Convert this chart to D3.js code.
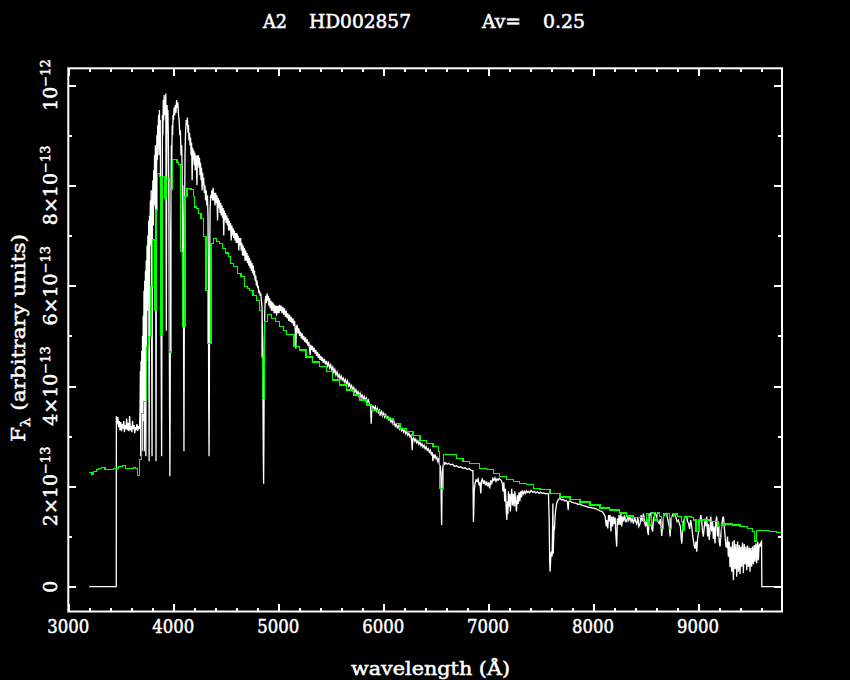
<!DOCTYPE html>
<html><head><meta charset="utf-8">
<script src="https://cdn.jsdelivr.net/npm/d3@7"></script>
<style>
html,body{margin:0;padding:0;background:#000;}
svg{display:block;background:#000;}
text{fill:#fff;font-family:"DejaVu Serif",serif;stroke:#fff;stroke-width:0.5px;}
</style></head><body>
<svg id="chart" width="850" height="680"></svg>
<script>
// ---------------- data ----------------
const titleParts = ["A2", "HD002857", "Av=", "0.25"];
const xTitle = "wavelength (Å)";
const yTitleMain = "F", yTitleSub = "λ", yTitleRest = " (arbitrary units)";
const xMajorTicks = [3000, 4000, 5000, 6000, 7000, 8000, 9000];
const xTickLabels = ["3000", "4000", "5000", "6000", "7000", "8000", "9000"];
const yMajorTicks = [0, 2, 4, 6, 8, 10];          // flux in units of 1e-13
const yTickMantissa = ["0", "2×10", "4×10", "6×10", "8×10", "10"];
const yTickExponent = ["", "−13", "−13", "−13", "−13", "−12"];

// observed spectrum (white): [wavelength Å, flux ×1e-13]
const observed = [
[3200,0],[3457,0],[3458,3.40],[3465,3.25],[3472,3.38],[3479,3.18],[3486,3.30],[3493,3.12],[3500,3.28],[3507,3.10],[3514,3.24],[3521,3.15],[3528,3.30],[3535,3.08],[3542,3.22],[3549,3.14],[3556,3.35],[3563,3.12],[3570,3.26],[3577,3.10],[3584,3.40],[3591,3.12],[3598,3.20],[3605,3.08],[3612,3.30],[3619,3.14],[3626,3.22],[3633,3.06],[3640,3.18],[3647,3.12],[3654,3.24],[3661,3.10],[3668,3.20],[3675,3.14],[3680,3.22],
[3684,3.6],[3687,4.3],[3690,2.6],[3693,4.5],[3697,3.0],[3700,4.7],[3704,2.7],[3707,5.0],[3711,3.3],[3714,5.4],[3718,4.0],[3721,5.9],[3725,2.7],[3728,6.1],[3732,5.0],[3735,6.3],[3739,2.6],[3742,6.5],[3746,4.5],[3750,6.8],[3754,5.5],[3758,7.0],[3762,6.0],[3766,7.3],[3770,2.5],[3774,7.4],[3778,6.8],[3782,7.7],[3786,6.9],[3790,7.9],[3794,5.0],[3798,2.6],[3802,7.6],[3806,8.1],[3810,7.2],[3814,8.3],[3818,7.6],[3822,8.6],[3826,8.0],[3830,8.8],[3834,5.5],[3836,2.5],[3840,8.0],[3844,9.0],[3848,8.5],[3852,9.2],[3856,8.8],[3860,9.4],[3864,8.6],[3868,9.5],[3872,9.0],[3876,9.3],[3880,7.5],[3884,5.0],[3889,2.6],[3893,6.0],[3897,9.4],[3901,9.0],[3905,9.7],[3909,9.3],[3913,9.8],[3917,9.4],[3921,9.7],[3925,9.5],[3929,9.83],[3932,7.0],[3934,5.1],[3937,8.2],[3941,9.6],[3945,9.2],[3949,9.5],[3953,9.0],[3957,8.0],[3961,6.0],[3965,3.5],[3968,2.2],[3971,4.0],[3974,6.9],[3978,7.5],[3982,8.8],[3986,8.5],[3990,9.2],[3994,9.0],[3998,9.4],
[4002,9.3],[4008,9.55],[4014,9.4],[4020,9.6],[4026,9.45],[4032,9.7],[4038,9.55],[4044,9.65],[4050,9.4],[4056,9.3],[4062,9.0],[4068,9.1],[4074,8.6],[4080,8.8],[4085,8.3],[4088,6.2],[4091,8.0],[4095,7.2],[4099,4.5],[4102,2.7],[4105,5.0],[4108,7.5],[4112,8.6],[4118,9.1],[4124,9.3],[4130,9.2],[4135,9.35],[4140,9.05],[4145,9.2],[4150,8.9],[4155,9.05],[4160,8.8],[4165,8.95],[4170,8.6],[4175,8.85],[4180,8.1],[4185,8.75],[4190,8.5],[4195,8.7],[4200,8.4],[4205,8.65],[4210,8.3],[4215,8.6],[4220,8.45],[4226,8.0],[4230,8.6],[4235,8.4],[4240,8.6],[4245,8.35],[4250,8.55],[4255,8.2],[4260,8.45],[4265,8.1],[4270,8.35],[4275,7.9],[4280,8.25],[4285,8.0],[4290,8.15],[4296,7.85],[4302,8.0],[4308,7.7],[4314,7.9],[4320,7.6],[4326,7.8],[4331,7.4],[4335,6.0],[4338,3.6],[4341,2.6],[4344,4.0],[4347,6.5],[4351,7.5],[4356,7.8],
[4362,7.75],[4368,7.9],[4374,7.7],[4380,7.95],[4386,7.7],[4392,7.85],[4398,7.6],[4404,7.85],[4410,7.65],[4416,7.8],[4422,7.3],[4428,7.75],[4434,7.55],[4440,7.7],[4446,7.45],[4452,7.65],[4458,7.4],[4464,7.6],[4470,7.35],[4476,7.55],[4481,7.0],[4486,7.5],[4492,7.3],[4498,7.45],[4504,7.25],[4510,7.4],[4516,7.2],[4522,7.35],[4528,7.1],[4534,7.3],[4540,7.1],[4546,7.25],[4552,6.9],[4558,7.2],[4564,7.0],[4570,7.15],[4576,6.95],[4582,7.1],[4588,6.9],[4594,7.05],[4600,6.85],[4606,7.05],[4612,6.85],[4618,7.0],[4624,6.7],[4630,6.95],[4636,6.8],[4642,6.95],[4648,6.7],[4654,6.85],[4660,6.6],[4666,6.8],[4672,6.6],[4678,6.75],[4684,6.5],[4690,6.7],[4696,6.5],[4702,6.65],[4708,6.45],[4714,6.6],[4720,6.4],[4726,6.55],[4732,6.35],[4738,6.5],[4744,6.3],[4750,6.45],[4756,6.25],[4762,6.4],[4768,6.2],[4774,6.3],[4780,6.1],[4786,6.2],[4792,6.0],[4798,6.1],[4804,5.95],[4810,6.0],[4816,5.85],[4822,5.9],[4828,5.8],[4834,5.85],[4840,5.7],[4846,5.55],[4851,4.9],[4855,3.6],[4858,2.6],[4861,2.05],[4864,3.0],[4867,4.5],[4871,5.4],[4876,5.7],[4882,5.8],[4888,5.65],[4894,5.85],[4900,5.7],
[4906,5.8],[4912,5.6],[4918,5.75],[4924,5.55],[4930,5.7],[4936,5.5],[4942,5.68],[4948,5.5],[4954,5.65],[4960,5.45],[4966,5.62],[4972,5.45],[4978,5.6],[4984,5.4],[4990,5.6],[4996,5.45],[5002,5.6],[5008,5.45],[5014,5.62],[5020,5.5],[5028,5.6],[5036,5.45],[5044,5.58],[5052,5.42],[5060,5.55],[5068,5.38],[5076,5.5],[5084,5.35],[5092,5.45],[5100,5.3],[5108,5.42],[5116,5.28],[5124,5.38],[5132,5.25],[5140,5.35],[5148,5.2],[5156,5.3],[5163,5.1],[5168,4.75],[5173,5.15],[5180,5.22],[5188,5.05],[5196,5.15],[5204,5.0],[5212,5.08],[5220,4.95],[5228,5.05],[5236,4.92],[5244,5.0],[5252,4.88],[5260,4.97],[5268,4.85],[5276,4.93],[5284,4.8],[5292,4.88],[5300,4.7],[5305,4.62],[5310,4.82],[5318,4.72],[5326,4.8],[5334,4.68],[5342,4.76],[5350,4.65],[5358,4.72],[5366,4.6],[5374,4.68],[5382,4.56],[5390,4.64],[5398,4.52],[5406,4.6],[5414,4.5],[5422,4.57],[5430,4.46],[5440,4.54],[5450,4.43],[5460,4.5],[5470,4.4],[5480,4.46],[5490,4.36],[5500,4.42],[5510,4.32],[5520,4.38],[5530,4.27],[5540,4.33],[5550,4.22],[5560,4.28],[5570,4.18],[5580,4.23],[5590,4.14],[5600,4.2],[5610,4.12],[5620,4.16],[5630,4.08],[5640,4.13],[5650,4.04],[5660,4.1],[5670,4.0],[5680,4.05],[5690,3.96],[5700,4.01],[5710,3.92],[5720,3.97],[5730,3.88],[5740,3.93],[5750,3.84],[5760,3.89],[5770,3.8],[5780,3.86],[5790,3.77],[5800,3.82],[5810,3.74],[5820,3.79],[5830,3.71],[5840,3.76],[5850,3.68],[5860,3.72],[5870,3.64],[5880,3.6],[5886,3.25],[5892,3.55],[5897,3.6],[5905,3.6],[5915,3.54],[5925,3.59],[5935,3.5],[5945,3.55],[5955,3.47],[5965,3.52],[5975,3.44],[5985,3.49],[5995,3.41],[6005,3.46],[6015,3.38],[6025,3.43],[6035,3.36],[6045,3.39],[6055,3.32],[6065,3.36],[6075,3.28],[6085,3.32],[6095,3.24],[6105,3.28],[6115,3.2],[6125,3.24],[6135,3.17],[6145,3.21],[6155,3.14],[6165,3.18],[6175,3.11],[6185,3.15],[6195,3.08],[6205,3.12],[6215,3.05],[6225,3.09],[6235,3.02],[6245,3.06],[6255,2.99],[6265,3.02],[6272,2.9],[6277,2.72],[6282,2.95],[6290,2.97],[6300,2.9],[6310,2.94],[6320,2.87],[6330,2.91],[6340,2.84],[6350,2.88],[6360,2.81],[6370,2.85],[6380,2.78],[6390,2.82],[6400,2.75],[6410,2.79],[6420,2.72],[6430,2.75],[6440,2.68],[6450,2.72],[6460,2.62],[6468,2.68],[6474,2.5],[6480,2.64],[6488,2.58],[6496,2.62],[6504,2.55],[6512,2.58],[6520,2.5],[6528,2.54],[6536,2.43],[6544,2.4],[6550,2.2],[6554,1.6],[6557,1.23],[6560,1.8],[6564,2.3],[6570,2.4],[6578,2.48],[6586,2.44],[6595,2.47],[6610,2.44],[6625,2.46],[6640,2.43],[6660,2.44],[6680,2.4],[6700,2.41],[6720,2.38],[6740,2.39],[6760,2.36],[6780,2.37],[6800,2.34],[6820,2.35],[6840,2.32],[6855,2.31],[6860,1.29],[6864,1.6],[6868,1.93],[6875,2.05],[6885,2.13],[6895,2.1],[6905,2.15],[6915,2.02],[6922,2.08],[6930,1.86],[6936,2.1],[6945,2.16],[6955,2.05],[6965,2.12],[6975,2.02],[6985,2.1],[6995,2.0],[7005,2.08],[7015,1.96],[7025,2.12],[7035,2.06],[7045,2.16],[7055,2.12],[7065,2.17],[7075,2.1],[7085,2.15],[7095,2.12],[7105,2.16],[7115,2.14],[7125,2.12],[7135,2.06],[7142,1.9],[7150,2.08],[7158,1.7],[7165,1.95],[7172,1.55],[7178,1.33],[7183,1.7],[7188,1.45],[7194,1.9],[7200,1.6],[7206,1.85],[7212,1.5],[7218,1.75],[7225,1.95],[7232,1.62],[7240,1.85],[7248,1.6],[7255,1.9],[7262,1.7],[7270,1.5],[7278,1.82],[7286,1.65],[7294,1.88],[7302,1.7],[7310,1.9],[7318,1.78],[7326,1.92],[7335,1.85],[7345,1.9],[7355,1.86],[7365,1.91],[7375,1.88],[7385,1.9],[7395,1.87],[7410,1.92],[7425,1.88],[7440,1.9],[7455,1.87],[7470,1.89],[7485,1.86],[7500,1.88],[7515,1.86],[7530,1.87],[7545,1.85],[7560,1.86],[7575,1.85],
[7582,1.3],[7586,0.55],[7590,0.3],[7594,0.45],[7598,0.66],[7602,0.7],[7606,0.6],[7610,0.62],[7614,1.2],[7617,1.66],[7620,0.66],[7624,0.9],[7628,1.2],[7632,1.13],[7638,1.4],[7644,1.53],[7650,1.62],[7656,1.68],[7665,1.72],[7675,1.75],[7686,1.76],[7700,1.73],[7718,1.74],[7730,1.71],[7745,1.72],[7755,1.69],[7763,1.53],[7768,1.7],[7781,1.71],[7800,1.68],[7820,1.67],[7840,1.66],[7860,1.64],[7876,1.65],[7895,1.62],[7915,1.61],[7935,1.6],[7955,1.58],[7972,1.58],[7990,1.57],[8010,1.56],[8030,1.55],[8050,1.53],[8067,1.51],[8085,1.5],[8100,1.46],[8115,1.4],[8125,1.2],[8130,1.33],[8140,1.16],[8148,1.43],[8156,1.3],[8162,1.43],[8170,1.1],[8178,1.4],[8186,1.2],[8194,1.4],[8202,1.25],[8210,1.38],[8218,1.0],[8225,0.8],[8232,1.36],[8240,1.23],[8248,1.43],[8257,1.23],[8265,1.45],[8273,1.2],[8281,1.4],[8290,1.3],[8300,1.42],[8310,1.3],[8320,1.3],[8330,1.4],[8340,1.32],[8352,1.4],[8362,1.3],[8372,1.36],[8384,1.26],[8396,1.38],[8406,1.3],[8416,1.25],[8426,1.38],[8436,1.2],[8448,1.26],[8458,1.43],[8468,1.3],[8480,1.46],[8490,1.3],[8500,1.2],[8511,1.36],[8520,1.1],[8527,1.03],[8535,1.4],[8543,1.46],[8552,1.47],[8560,1.15],[8568,1.1],[8576,1.36],[8586,1.42],[8596,1.46],[8606,1.4],[8618,1.3],[8630,1.26],[8642,1.35],[8654,1.01],[8664,1.25],[8672,1.4],[8684,1.44],[8696,1.46],[8706,1.4],[8716,1.3],[8726,1.2],[8734,1.0],[8742,1.36],[8752,1.4],[8762,1.45],[8772,1.43],[8781,1.43],[8790,1.38],[8800,1.3],[8812,1.33],[8822,1.26],[8832,1.2],[8840,0.95],[8845,0.86],[8852,1.1],[8860,1.26],[8872,1.38],[8884,1.4],[8892,1.4],[8900,1.3],[8910,1.26],[8920,1.15],[8930,1.33],[8940,1.2],[8950,1.0],[8958,0.9],[8965,0.8],[8972,0.76],[8980,0.9],[8988,0.7],[8995,0.95],[9003,1.06],[9011,1.25],[9019,1.33],[9027,1.43],[9035,1.3],[9043,1.1],[9051,1.0],[9060,1.2],[9068,1.36],[9076,1.2],[9083,1.4],[9091,1.0],[9099,1.25],[9107,0.93],[9115,1.15],[9122,1.4],[9130,1.1],[9138,1.3],[9146,0.95],[9154,1.2],[9162,0.86],[9170,1.3],[9178,1.4],[9186,1.0],[9194,1.3],[9202,0.9],[9210,0.8],[9218,1.06],[9226,1.2],[9234,1.36],[9242,1.4],[9250,1.2],[9258,1.0],[9266,0.8],[9273,0.79],[9281,1.0],[9289,0.6],[9297,0.9],[9305,0.39],[9313,0.8],[9321,0.3],[9329,0.9],[9337,0.13],[9345,0.93],[9353,0.35],[9361,0.85],[9369,0.2],[9377,0.9],[9385,0.3],[9393,0.83],[9400,0.25],[9408,0.8],[9416,0.4],[9424,0.88],[9432,0.27],[9440,0.85],[9448,0.45],[9456,0.8],[9464,0.33],[9472,0.82],[9480,0.4],[9488,0.78],[9495,0.3],[9503,0.77],[9511,0.4],[9519,0.8],[9527,0.45],[9535,0.83],[9543,0.5],[9551,0.86],[9559,0.47],[9567,0.9],[9575,0.53],[9583,0.86],[9591,0.8],[9599,0.88],[9605,0.9],[9608,0.0],[9790,0.0]
];

// model spectrum (green, binned): [bin start Å, flux ×1e-13]
const model = [
[3200,2.27],[3225,2.23],[3240,2.30],[3265,2.33],[3290,2.36],[3320,2.38],[3350,2.33],[3400,2.33],[3430,2.36],[3480,2.39],[3520,2.41],[3545,2.36],[3600,2.36],[3625,2.38],[3640,2.35],[3660,2.21],[3679,2.54],[3701,3.46],[3717,3.69],[3743,4.78],[3765,4.98],[3787,5.98],[3803,6.91],[3819,5.51],[3835,7.51],[3852,8.24],[3872,8.17],[3882,5.0],[3892,8.17],[3914,8.17],[3922,7.74],[3935,8.14],[3958,8.14],[3963,4.68],[3980,7.91],[3995,8.52],[4035,8.45],[4050,8.41],[4066,6.68],[4085,5.18],[4112,7.77],[4130,7.94],[4170,7.91],[4190,7.77],[4205,7.57],[4225,7.54],[4241,7.44],[4265,7.34],[4290,6.98],[4312,5.91],[4330,4.85],[4360,6.84],[4380,6.94],[4410,6.88],[4440,6.84],[4470,6.74],[4500,6.65],[4525,6.58],[4545,6.45],[4575,6.38],[4610,6.25],[4645,6.18],[4680,5.98],[4705,5.95],[4730,5.91],[4760,5.81],[4790,5.71],[4820,5.51],[4840,4.58],[4852,3.75],[4872,5.28],[4895,5.42],[4935,5.35],[4975,5.28],[5010,5.18],[5050,5.1],[5080,5.02],[5150,4.78],[5205,4.72],[5265,4.58],[5330,4.48],[5395,4.39],[5460,4.29],[5520,4.12],[5585,4.02],[5650,3.92],[5715,3.82],[5775,3.72],[5840,3.62],[5890,3.52],[5965,3.42],[6030,3.36],[6095,3.26],[6160,3.16],[6220,3.09],[6285,3.02],[6350,2.92],[6410,2.86],[6475,2.79],[6525,2.69],[6537,1.96],[6575,2.64],[6635,2.63],[6700,2.56],[6760,2.49],[6825,2.46],[6920,2.36],[6985,2.33],[7050,2.26],[7110,2.19],[7175,2.13],[7240,2.09],[7300,2.06],[7365,2.03],[7430,1.96],[7495,1.93],[7590,1.86],[7685,1.79],[7780,1.74],[7875,1.69],[7970,1.63],[8065,1.57],[8160,1.53],[8255,1.47],[8320,1.41],[8384,1.38],[8480,1.30],[8511,1.46],[8530,1.23],[8553,1.47],[8585,1.33],[8615,1.47],[8635,1.40],[8650,1.16],[8670,1.45],[8710,1.46],[8728,1.16],[8750,1.40],[8770,1.45],[8805,1.40],[8840,1.30],[8855,1.13],[8870,1.40],[8935,1.38],[8960,1.33],[8980,1.10],[9010,1.33],[9110,1.30],[9190,1.20],[9205,0.98],[9225,1.23],[9265,1.25],[9330,1.23],[9400,1.20],[9475,1.16],[9520,1.10],[9535,0.91],[9555,1.12],[9620,1.12],[9680,1.10],[9750,1.08],[9800,1.07]
];

// ---------------- drawing ----------------
const svg = d3.select("#chart");
const X0 = 68.3, X1 = 782, Y0 = 611.5, Y1 = 68.3;
const x = d3.scaleLinear().domain([3000, 9800]).range([X0, X1]);
const y = d3.scaleLinear().domain([-0.494, 10.333]).range([Y0, Y1]);

const xMinor = d3.range(3000, 9800, 200).filter(v => v % 1000 !== 0);
const yMinor = [1, 3, 5, 7, 9];

function styleAxis(g) {
  g.select(".domain").remove();
  g.selectAll(".tick line").attr("stroke", "#fff").attr("stroke-width", 2).attr("shape-rendering", "crispEdges");
  g.selectAll(".tick text").remove();
}
const ax = [
  [d3.axisBottom(x).tickValues(xMajorTicks).tickSize(-8), `translate(0,${Y0})`],
  [d3.axisBottom(x).tickValues(xMinor).tickSize(-4), `translate(0,${Y0})`],
  [d3.axisTop(x).tickValues(xMajorTicks).tickSize(-8), `translate(0,${Y1})`],
  [d3.axisTop(x).tickValues(xMinor).tickSize(-4), `translate(0,${Y1})`],
  [d3.axisLeft(y).tickValues(yMajorTicks).tickSize(-8), `translate(${X0},0)`],
  [d3.axisLeft(y).tickValues(yMinor).tickSize(-4), `translate(${X0},0)`],
  [d3.axisRight(y).tickValues(yMajorTicks).tickSize(-8), `translate(${X1},0)`],
  [d3.axisRight(y).tickValues(yMinor).tickSize(-4), `translate(${X1},0)`]
];
ax.forEach(([a, t]) => svg.append("g").attr("transform", t).call(a.tickSizeOuter(0)).call(styleAxis));

// data lines
svg.append("path").datum(observed)
  .attr("fill", "none").attr("stroke", "#fff").attr("stroke-width", 1.3)
  .attr("d", d3.line().x(d => x(d[0])).y(d => y(d[1])));
svg.append("path").datum(model)
  .attr("fill", "none").attr("stroke", "#00ff00").attr("stroke-width", 1.2)
  .attr("shape-rendering", "crispEdges")
  .attr("d", d3.line().curve(d3.curveStepAfter).x(d => x(d[0])).y(d => y(d[1])));

// frame
svg.append("rect").attr("x", X0).attr("y", Y1).attr("width", X1 - X0).attr("height", Y0 - Y1)
  .attr("fill", "none").attr("stroke", "#fff").attr("stroke-width", 2);

// x tick labels
svg.append("g").selectAll("text").data(xMajorTicks).join("text")
  .attr("x", d => x(d)).attr("y", 633).attr("text-anchor", "middle")
  .attr("font-size", 18).attr("textLength", 42).attr("lengthAdjust", "spacingAndGlyphs")
  .text((d, i) => xTickLabels[i]);

// y tick labels (rotated)
const yl = svg.append("g").selectAll("text").data(yMajorTicks).join("text")
  .attr("transform", d => `translate(57,${y(d)}) rotate(-90)`)
  .attr("text-anchor", "middle").attr("font-size", 19);
yl.append("tspan").text((d, i) => yTickMantissa[i]);
yl.append("tspan").attr("dy", -7).attr("font-size", 13).text((d, i) => yTickExponent[i]);

// titles
const titleX = [263, 309, 482, 543], titleW = [24, 102, 39, 42];
svg.append("g").selectAll("text").data(titleParts).join("text")
  .attr("x", (d, i) => titleX[i]).attr("y", 28).attr("font-size", 18)
  .attr("textLength", (d, i) => titleW[i]).attr("lengthAdjust", "spacingAndGlyphs")
  .text(d => d);

svg.append("text").attr("x", 430.5).attr("y", 675).attr("text-anchor", "middle")
  .attr("font-size", 18).attr("textLength", 159).attr("lengthAdjust", "spacingAndGlyphs")
  .text(xTitle);

const yt = svg.append("text").attr("transform", "translate(25,338) rotate(-90)")
  .attr("text-anchor", "middle").attr("font-size", 19)
  .attr("textLength", 208).attr("lengthAdjust", "spacingAndGlyphs");
yt.append("tspan").text(yTitleMain);
yt.append("tspan").attr("dy", 5).attr("font-size", 13).text(yTitleSub);
yt.append("tspan").attr("dy", -5).text(yTitleRest);
</script>
</body></html>
